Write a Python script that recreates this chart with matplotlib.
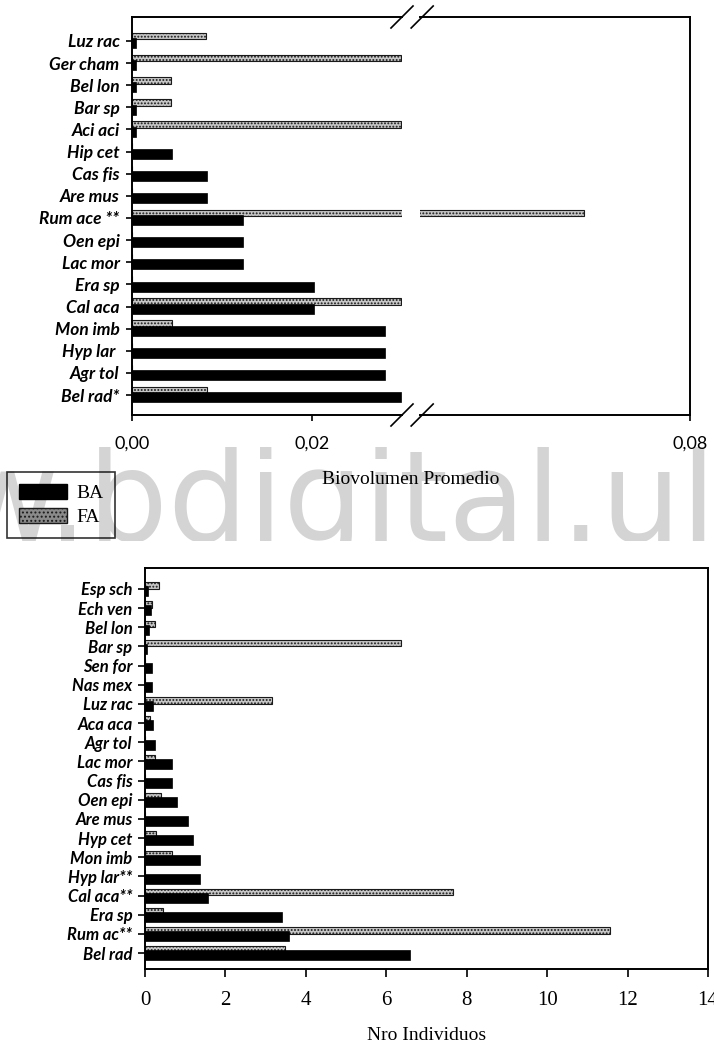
import matplotlib
matplotlib.use("Agg")
import matplotlib.pyplot as plt
from matplotlib.patches import Patch
from matplotlib.transforms import Bbox, TransformedBbox
import numpy as np

plt.rcParams['hatch.linewidth'] = 0.9

# ---------------- data ----------------
top_categories = ["Luz rac", "Ger cham", "Bel lon", "Bar sp", "Aci aci", "Hip cet",
                  "Cas fis", "Are mus", "Rum ace **", "Oen epi", "Lac mor", "Era sp",
                  "Cal aca", "Mon imb", "Hyp lar ", "Agr tol", "Bel rad*"]
top_ba = [0.0004, 0.0004, 0.0004, 0.0004, 0.0004, 0.0044, 0.0083, 0.0083, 0.0123,
          0.0123, 0.0123, 0.0202, 0.0202, 0.0281, 0.0281, 0.0281, 0.0299]
top_fa = [0.0082, 0.0299, 0.0043, 0.0043, 0.0299, 0.0, 0.0, 0.0, 0.0682,
          0.0, 0.0, 0.0, 0.0299, 0.0044, 0.0, 0.0, 0.0083]
top_ticks_left = [0.00, 0.02]
top_ticklabels_left = ["0,00", "0,02"]
top_ticks_right = [0.08]
top_ticklabels_right = ["0,08"]
top_xlim_left = (0.0, 0.03)
top_xlim_right = (0.05, 0.08)

bot_categories = ["Esp sch", "Ech ven", "Bel lon", "Bar sp", "Sen for", "Nas mex",
                  "Luz rac", "Aca aca", "Agr tol", "Lac mor", "Cas fis", "Oen epi",
                  "Are mus", "Hyp cet", "Mon imb", "Hyp lar**", "Cal aca**", "Era sp",
                  "Rum ac**", "Bel rad"]
bot_ba = [0.08, 0.15, 0.10, 0.05, 0.17, 0.17, 0.19, 0.19, 0.26, 0.68, 0.68, 0.79,
          1.08, 1.19, 1.38, 1.38, 1.57, 3.40, 3.57, 6.59]
bot_fa = [0.36, 0.17, 0.25, 6.36, 0.0, 0.0, 3.16, 0.12, 0.0, 0.24, 0.0, 0.39,
          0.0, 0.28, 0.68, 0.0, 7.67, 0.46, 11.57, 3.48]
bot_ticks = [0, 2, 4, 6, 8, 10, 12, 14]
bot_ticklabels = ["0", "2", "4", "6", "8", "10", "12", "14"]

series_names = ["BA", "FA"]

# ---------------- layout ----------------
W, H = 714, 1052
fig = plt.figure(figsize=(W / 100, H / 100), dpi=100)
fig.patch.set_facecolor("white")


def rect(x0, y0, x1, y1):
    return [x0 / W, 1 - y1 / H, (x1 - x0) / W, (y1 - y0) / H]


axL = fig.add_axes(rect(132, 17, 402, 415))
axR = fig.add_axes(rect(420, 17, 690, 415), sharey=axL)
axB = fig.add_axes(rect(145, 568, 708, 969))

BA_STYLE = dict(facecolor="black", edgecolor="black", linewidth=0.5)
FA_STYLE = dict(facecolor="#c6c6c6", edgecolor="#1a1a1a", linewidth=0.8, hatch=".....")

SPINE_LW = 1.4
sans = ["Lato", "DejaVu Sans"]
serif = ["Liberation Serif", "DejaVu Serif"]

# ---- top chart (broken axis) ----
yt = np.arange(len(top_categories))
for ax in (axL, axR):
    ax.barh(yt - 0.22, top_fa, height=0.30, zorder=2, **FA_STYLE)
    ax.barh(yt + 0.10, top_ba, height=0.45, zorder=3, **BA_STYLE)
    for s in ax.spines.values():
        s.set_linewidth(SPINE_LW)
axL.set_xlim(*top_xlim_left)
axR.set_xlim(*top_xlim_right)
axL.set_ylim(len(top_categories) - 1 + 0.9, -1.08)
axL.spines["right"].set_visible(False)
axR.spines["left"].set_visible(False)
axL.set_yticks(yt, labels=top_categories, fontfamily=sans, fontweight="bold",
               fontstyle="italic", fontsize=12.5)
axL.tick_params(axis="y", direction="out", length=4, width=1.2, pad=5)
axR.tick_params(axis="y", left=False, labelleft=False)
axL.set_xticks(top_ticks_left, labels=top_ticklabels_left, fontfamily=sans, fontsize=13)
axR.set_xticks(top_ticks_right, labels=top_ticklabels_right, fontfamily=sans, fontsize=13)
for ax in (axL, axR):
    ax.tick_params(axis="x", direction="out", length=4, width=1.2, pad=11)

# break marks
dxl = 11 / 270
dy = 11 / 398
for yy in (0, 1):
    axL.plot([1 - dxl, 1 + dxl], [yy - dy, yy + dy], transform=axL.transAxes,
             color="black", lw=1.2, clip_on=False, zorder=5)
    axR.plot([0 - dxl + 0.008, 0 + dxl + 0.008], [yy - dy, yy + dy], transform=axR.transAxes,
             color="black", lw=1.2, clip_on=False, zorder=5)

fig.text(411 / W, 1 - 480 / H, "Biovolumen Promedio", ha="center", va="center",
         fontfamily=serif, fontsize=14)

# legend
handles = [Patch(facecolor="black", edgecolor="black", label=series_names[0]),
           Patch(facecolor="#8a8a8a", edgecolor="#1a1a1a", hatch="....", label=series_names[1])]
leg = fig.legend(handles=handles, loc="upper left", bbox_to_anchor=(7 / W, 1 - 472 / H),
                 bbox_transform=fig.transFigure, fancybox=False, frameon=True,
                 edgecolor="black", facecolor="none", borderaxespad=0,
                 prop={"family": serif, "size": 14}, handlelength=2.5, handleheight=0.8,
                 handletextpad=0.45, labelspacing=0.3, borderpad=0.6)
leg.get_frame().set_linewidth(1.2)

# ---- bottom chart ----
yb = np.arange(len(bot_categories))
axB.barh(yb - 0.18, bot_fa, height=0.33, zorder=2, **FA_STYLE)
axB.barh(yb + 0.12, bot_ba, height=0.52, zorder=3, **BA_STYLE)
axB.set_xlim(bot_ticks[0], bot_ticks[-1])
axB.set_ylim(len(bot_categories) - 1 + 0.83, -1.09)
axB.set_yticks(yb, labels=bot_categories, fontfamily=sans, fontweight="bold",
               fontstyle="italic", fontsize=12)
axB.set_xticks(bot_ticks, labels=bot_ticklabels, fontfamily=serif, fontsize=15)
axB.tick_params(axis="y", direction="out", length=5, width=1.2, pad=4)
axB.tick_params(axis="x", direction="out", length=6, width=1.2, pad=10)
for s in axB.spines.values():
    s.set_linewidth(SPINE_LW)

fig.text(427 / W, 1 - 1035 / H, "Nro Individuos", ha="center", va="center",
         fontfamily=serif, fontsize=14)

# watermark (clipped band between the two chart images)
wm = fig.text(-250 / W, 1 - 541 / H, "www.bdigital.ula.ve", ha="left", va="baseline",
              fontfamily="DejaVu Sans", fontsize=91, color="#d4d4d4", zorder=-1)
wm.set_clip_box(TransformedBbox(Bbox.from_extents(0, 1 - 541 / H, 1, 1 - 447 / H),
                                fig.transFigure))
wm.set_clip_on(True)

fig.savefig("out.png", dpi=100)
